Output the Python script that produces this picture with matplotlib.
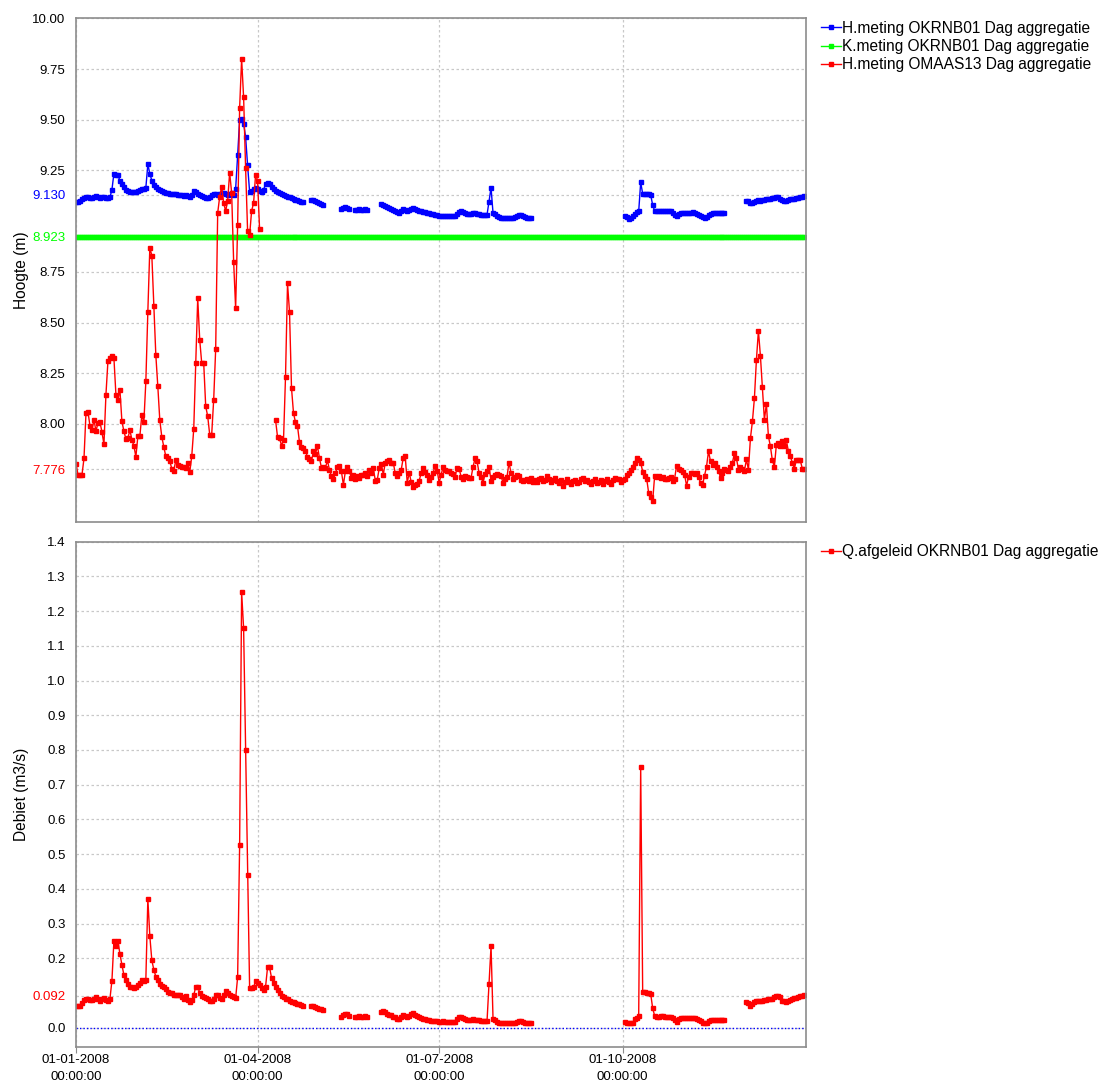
import numpy as np
import pandas as pd
import matplotlib
matplotlib.use("Agg")
import matplotlib.pyplot as plt
import matplotlib.dates as mdates

plt.rcParams['font.family'] = ['Liberation Sans', 'DejaVu Sans']

nan = float("nan")

# one value per day, 01-01-2008 .. 31-12-2008 (366 days)
days = pd.date_range("2008-01-01", periods=366, freq="D")

# H.meting OKRNB01 (m)
h_okrnb01 = [
    9.097, 9.097, 9.100, 9.108, 9.115, 9.118, 9.118, 9.115, 9.115, 9.120,   # 0
    9.122, 9.118, 9.112, 9.118, 9.120, 9.115, 9.112, 9.118, 9.155, 9.235,   # 10
    9.230, 9.228, 9.200, 9.185, 9.170, 9.155, 9.150, 9.145, 9.143, 9.143,   # 20
    9.145, 9.150, 9.155, 9.158, 9.160, 9.165, 9.280, 9.235, 9.200, 9.180,   # 30
    9.168, 9.160, 9.152, 9.148, 9.143, 9.140, 9.138, 9.135, 9.135, 9.133,   # 40
    9.132, 9.130, 9.128, 9.128, 9.125, 9.127, 9.122, 9.118, 9.127, 9.148,   # 50
    9.143, 9.135, 9.127, 9.122, 9.118, 9.115, 9.115, 9.118, 9.127, 9.135,   # 60
    9.132, 9.127, 9.132, 9.138, 9.138, 9.132, 9.127, 9.135, 9.138, 9.127,   # 70
    9.160, 9.324, 9.498, 9.506, 9.481, 9.415, 9.275, 9.145, 9.150, 9.160,   # 80
    9.165, 9.160, 9.150, 9.145, 9.155, 9.183, 9.190, 9.183, 9.170, 9.158,   # 90
    9.150, 9.145, 9.138, 9.133, 9.127, 9.122, 9.118, 9.118, 9.115, 9.110,   # 100
    9.105, 9.103, 9.100, 9.097, 9.093, nan, nan, nan, 9.105, 9.105,         # 110
    9.100, 9.095, 9.090, 9.085, 9.080, nan, nan, nan, nan, nan,             # 120
    nan, nan, nan, 9.060, 9.065, 9.068, 9.065, 9.060, nan, nan,             # 130
    9.055, 9.055, 9.058, 9.055, 9.055, 9.058, 9.055, nan, nan, nan,         # 140
    nan, nan, nan, 9.083, 9.080, 9.075, 9.070, 9.065, 9.060, 9.055,         # 150
    9.050, 9.045, 9.040, 9.050, 9.060, 9.055, 9.050, 9.055, 9.060, 9.065,   # 160
    9.060, 9.055, 9.050, 9.048, 9.045, 9.043, 9.040, 9.038, 9.035, 9.033,   # 170
    9.030, 9.030, 9.028, 9.027, 9.028, 9.026, 9.027, 9.025, 9.026, 9.024,   # 180
    9.025, 9.035, 9.045, 9.050, 9.045, 9.040, 9.037, 9.035, 9.037, 9.040,   # 190
    9.038, 9.035, 9.035, 9.032, 9.030, 9.032, 9.032, 9.097, 9.165, 9.040,   # 200
    9.035, 9.025, 9.020, 9.018, 9.018, 9.018, 9.018, 9.018, 9.018, 9.018,   # 210
    9.020, 9.025, 9.030, 9.032, 9.025, 9.020, 9.018, 9.018, 9.018, nan,     # 220
] + [nan] * 40 + [                                                          # 230-269
    nan, nan, nan, nan, nan, 9.026, 9.020, 9.013, 9.015, 9.025,             # 270
    9.036, 9.045, 9.048, 9.192, 9.135, 9.135, 9.135, 9.133, 9.130, 9.080,   # 280
    9.050, 9.048, 9.050, 9.050, 9.052, 9.050, 9.050, 9.050, 9.048, 9.040,   # 290
    9.030, 9.026, 9.035, 9.040, 9.040, 9.042, 9.040, 9.042, 9.040, 9.043,   # 300
    9.040, 9.035, 9.030, 9.025, 9.020, 9.018, 9.020, 9.030, 9.035, 9.040,   # 310
    9.038, 9.040, 9.040, 9.038, 9.040, 9.040, nan, nan, nan, nan,           # 320
    nan, nan, nan, nan, nan, nan, 9.100, 9.098, 9.092, 9.088,               # 330
    9.095, 9.100, 9.103, 9.100, 9.102, 9.105, 9.108, 9.110, 9.110, 9.112,   # 340
    9.115, 9.120, 9.118, 9.110, 9.103, 9.100, 9.100, 9.103, 9.107, 9.110,   # 350
    9.110, 9.112, 9.115, 9.118, 9.120, 9.122,                               # 360
]

# K.meting OKRNB01 (m) - fixed crest level
k_okrnb01 = [8.923] * 366

# H.meting OMAAS13 (m)
h_omaas13 = [
    7.805, 7.750, 7.746, 7.750, 7.830, 8.055, 8.060, 7.990, 7.970, 8.020,   # 0
    7.965, 8.005, 8.010, 7.960, 7.900, 8.145, 8.310, 8.325, 8.335, 8.325,   # 10
    8.145, 8.120, 8.170, 8.013, 7.965, 7.926, 7.930, 7.970, 7.923, 7.893,   # 20
    7.838, 7.940, 7.940, 8.046, 8.008, 8.210, 8.554, 8.870, 8.830, 8.580,   # 30
    8.340, 8.185, 8.018, 7.936, 7.887, 7.840, 7.830, 7.816, 7.780, 7.770,   # 40
    7.820, 7.800, 7.795, 7.790, 7.790, 7.784, 7.810, 7.762, 7.840, 7.975,   # 50
    8.300, 8.620, 8.415, 8.300, 8.300, 8.087, 8.038, 7.948, 7.948, 8.120,   # 60
    8.370, 9.040, 9.120, 9.170, 9.090, 9.050, 9.100, 9.240, 9.140, 8.800,   # 70
    8.570, 8.980, 9.560, 9.800, 9.610, 9.260, 8.950, 8.930, 9.050, 9.090,   # 80
    9.230, 9.200, 8.960, nan, nan, nan, nan, nan, nan, nan,                 # 90
    8.020, 7.936, 7.930, 7.893, 7.923, 8.234, 8.693, 8.554, 8.177, 8.054,   # 100
    8.008, 7.990, 7.910, 7.887, 7.882, 7.866, 7.838, 7.825, 7.816, 7.866,   # 110
    7.854, 7.890, 7.833, 7.784, 7.790, 7.784, 7.820, 7.775, 7.743, 7.730,   # 120
    7.756, 7.790, 7.795, 7.767, 7.700, 7.767, 7.790, 7.767, 7.734, 7.746,   # 130
    7.730, 7.743, 7.734, 7.750, 7.746, 7.756, 7.743, 7.775, 7.760, 7.784,   # 140
    7.720, 7.726, 7.784, 7.805, 7.750, 7.810, 7.816, 7.820, 7.810, 7.810,   # 150
    7.756, 7.743, 7.756, 7.775, 7.833, 7.840, 7.710, 7.760, 7.713, 7.690,   # 160
    7.700, 7.705, 7.720, 7.760, 7.785, 7.765, 7.750, 7.725, 7.740, 7.760,   # 170
    7.795, 7.770, 7.710, 7.750, 7.790, 7.775, 7.770, 7.770, 7.760, 7.755,   # 180
    7.740, 7.785, 7.780, 7.740, 7.730, 7.745, 7.740, 7.735, 7.735, 7.790,   # 190
    7.830, 7.815, 7.760, 7.740, 7.710, 7.755, 7.770, 7.790, 7.720, 7.740,   # 200
    7.750, 7.755, 7.750, 7.745, 7.710, 7.730, 7.740, 7.810, 7.760, 7.730,   # 210
    7.740, 7.750, 7.745, 7.725, 7.720, 7.725, 7.730, 7.720, 7.735, 7.715,   # 220
    7.725, 7.715, 7.730, 7.735, 7.720, 7.725, 7.745, 7.730, 7.715, 7.725,   # 230
    7.735, 7.720, 7.710, 7.725, 7.695, 7.715, 7.730, 7.715, 7.705, 7.720,   # 240
    7.725, 7.710, 7.715, 7.730, 7.735, 7.720, 7.725, 7.715, 7.705, 7.720,   # 250
    7.730, 7.710, 7.715, 7.725, 7.705, 7.720, 7.730, 7.715, 7.705, 7.725,   # 260
    7.735, 7.730, 7.730, 7.715, 7.725, 7.730, 7.750, 7.760, 7.775, 7.790,   # 270
    7.810, 7.833, 7.820, 7.810, 7.765, 7.745, 7.730, 7.660, 7.640, 7.620,   # 280
    7.745, 7.740, 7.745, 7.735, 7.740, 7.730, 7.730, 7.735, 7.740, 7.720,   # 290
    7.730, 7.795, 7.780, 7.775, 7.765, 7.750, 7.695, 7.740, 7.760, 7.760,   # 300
    7.755, 7.760, 7.740, 7.710, 7.700, 7.745, 7.790, 7.866, 7.815, 7.800,   # 310
    7.810, 7.790, 7.770, 7.735, 7.760, 7.780, 7.775, 7.770, 7.790, 7.810,   # 320
    7.857, 7.830, 7.775, 7.790, 7.780, 7.770, 7.825, 7.775, 7.930, 8.013,   # 330
    8.128, 8.316, 8.460, 8.336, 8.180, 8.020, 8.100, 7.940, 7.890, 7.820,   # 340
    7.790, 7.898, 7.907, 7.890, 7.915, 7.890, 7.920, 7.866, 7.840, 7.810,   # 350
    7.780, 7.820, 7.820, 7.820, 7.780, 7.780,                               # 360
]

# Q.afgeleid OKRNB01 (m3/s)
q_okrnb01 = [
    0.062, 0.063, 0.062, 0.070, 0.080, 0.082, 0.083, 0.081, 0.080, 0.083,   # 0
    0.087, 0.082, 0.078, 0.083, 0.086, 0.080, 0.076, 0.083, 0.135, 0.251,   # 10
    0.234, 0.249, 0.213, 0.181, 0.152, 0.138, 0.126, 0.118, 0.116, 0.114,   # 20
    0.118, 0.123, 0.128, 0.138, 0.133, 0.138, 0.371, 0.263, 0.194, 0.167,   # 30
    0.147, 0.138, 0.126, 0.120, 0.117, 0.111, 0.104, 0.101, 0.099, 0.095,   # 40
    0.094, 0.094, 0.093, 0.088, 0.082, 0.090, 0.080, 0.075, 0.080, 0.094,   # 50
    0.117, 0.117, 0.101, 0.090, 0.088, 0.085, 0.082, 0.078, 0.078, 0.082,   # 60
    0.094, 0.094, 0.085, 0.082, 0.094, 0.107, 0.101, 0.094, 0.090, 0.088,   # 70
    0.085, 0.145, 0.525, 1.255, 1.150, 0.800, 0.440, 0.115, 0.114, 0.117,   # 80
    0.133, 0.130, 0.123, 0.114, 0.109, 0.118, 0.174, 0.174, 0.143, 0.128,   # 90
    0.118, 0.109, 0.099, 0.092, 0.088, 0.082, 0.082, 0.078, 0.075, 0.075,   # 100
    0.072, 0.068, 0.068, 0.065, 0.063, nan, nan, nan, 0.063, 0.062,         # 110
    0.060, 0.058, 0.055, 0.053, 0.050, nan, nan, nan, nan, nan,             # 120
    nan, nan, nan, 0.032, 0.036, 0.040, 0.038, 0.034, nan, nan,             # 130
    0.032, 0.031, 0.033, 0.032, 0.031, 0.033, 0.032, nan, nan, nan,         # 140
    nan, nan, nan, 0.046, 0.048, 0.044, 0.040, 0.037, 0.035, 0.032,         # 150
    0.030, 0.026, 0.024, 0.030, 0.037, 0.034, 0.030, 0.033, 0.038, 0.041,   # 160
    0.037, 0.033, 0.030, 0.028, 0.026, 0.024, 0.023, 0.022, 0.020, 0.019,   # 170
    0.018, 0.018, 0.017, 0.017, 0.018, 0.017, 0.017, 0.016, 0.017, 0.016,   # 180
    0.017, 0.025, 0.030, 0.032, 0.028, 0.024, 0.022, 0.021, 0.022, 0.024,   # 190
    0.023, 0.021, 0.021, 0.019, 0.018, 0.019, 0.020, 0.126, 0.235, 0.025,   # 200
    0.022, 0.017, 0.014, 0.012, 0.012, 0.012, 0.012, 0.012, 0.012, 0.012,   # 210
    0.013, 0.016, 0.020, 0.020, 0.016, 0.013, 0.012, 0.012, 0.012, nan,     # 220
] + [nan] * 40 + [                                                          # 230-269
    nan, nan, nan, nan, nan, 0.017, 0.014, 0.012, 0.012, 0.014,             # 270
    0.025, 0.027, 0.033, 0.750, 0.102, 0.102, 0.101, 0.100, 0.098, 0.056,   # 280
    0.034, 0.032, 0.032, 0.033, 0.034, 0.032, 0.032, 0.031, 0.032, 0.028,   # 290
    0.022, 0.017, 0.025, 0.027, 0.027, 0.028, 0.027, 0.028, 0.027, 0.028,   # 300
    0.027, 0.025, 0.022, 0.018, 0.014, 0.012, 0.014, 0.020, 0.022, 0.023,   # 310
    0.022, 0.023, 0.023, 0.022, 0.023, 0.022, nan, nan, nan, nan,           # 320
    nan, nan, nan, nan, nan, nan, 0.075, 0.070, 0.062, 0.068,               # 330
    0.073, 0.077, 0.078, 0.077, 0.078, 0.080, 0.080, 0.082, 0.083, 0.083,   # 340
    0.087, 0.090, 0.092, 0.088, 0.078, 0.076, 0.075, 0.077, 0.080, 0.082,   # 350
    0.084, 0.085, 0.087, 0.090, 0.092, 0.093,                               # 360
]

for series in (h_okrnb01, k_okrnb01, h_omaas13, q_okrnb01):
    assert len(series) == len(days), len(series)

quarter_dates = pd.to_datetime(["2008-01-01", "2008-04-01", "2008-07-01", "2008-10-01"])

top_ticks = [7.776, 8.00, 8.25, 8.50, 8.75, 8.923, 9.130, 9.25, 9.50, 9.75, 10.00]
top_labels = ["7.776", "8.00", "8.25", "8.50", "8.75", "8.923", "9.130",
              "9.25", "9.50", "9.75", "10.00"]
top_label_colors = {"7.776": "#ff0000", "8.923": "#00ff00", "9.130": "#0000ff"}

bottom_ticks = [0.0, 0.092, 0.2, 0.3, 0.4, 0.5, 0.6, 0.7, 0.8, 0.9, 1.0, 1.1, 1.2, 1.3, 1.4]
bottom_labels = ["0.0", "0.092", "0.2", "0.3", "0.4", "0.5", "0.6", "0.7", "0.8",
                 "0.9", "1.0", "1.1", "1.2", "1.3", "1.4"]
bottom_label_colors = {"0.092": "#ff0000"}

GRID = dict(color="#c8c8c8", linestyle=(0, (2, 2)), linewidth=0.9)
SPINE = "#8c8c8c"
TICK_FS = 9.5
TEXT_FS = 11.2


def style_axes(ax, ticks, labels, colors, ylim):
    ax.set_xlim(pd.Timestamp("2008-01-01"), pd.Timestamp("2009-01-01"))
    ax.set_ylim(*ylim)
    ax.set_yticks(ticks)
    ax.set_yticklabels(labels)
    for lab in ax.get_yticklabels():
        lab.set_color(colors.get(lab.get_text(), "black"))
    ax.set_xticks(quarter_dates)
    ax.xaxis.set_major_formatter(mdates.DateFormatter("%d-%m-%Y\n%H:%M:%S"))
    ax.grid(True, **GRID)
    ax.set_axisbelow(True)
    ax.tick_params(axis="y", length=0, pad=7.5, labelsize=TICK_FS)
    ax.tick_params(axis="x", length=4, color=SPINE, pad=1, labelsize=TICK_FS)
    for sp in ax.spines.values():
        sp.set_color(SPINE)
        sp.set_linewidth(1.2)


fig = plt.figure(figsize=(11, 10.81), dpi=100)
ax1 = fig.add_axes([0.0691, 0.5168, 0.6639, 0.4662])
ax2 = fig.add_axes([0.0691, 0.0317, 0.6639, 0.4672])

mk = dict(marker="s", markersize=2.8, linewidth=1.0)
ax1.plot(days, h_okrnb01, color="#0000ff", label="H.meting OKRNB01 Dag aggregatie", **mk)
ax1.plot(days, k_okrnb01, color="#00ff00", label="K.meting OKRNB01 Dag aggregatie", **mk)
ax1.plot(days, h_omaas13, color="#ff0000", label="H.meting OMAAS13 Dag aggregatie", **mk)
style_axes(ax1, top_ticks, top_labels, top_label_colors, (7.515, 10.0))
ax1.tick_params(axis="x", labelbottom=False, length=0)
ax1.set_ylabel("Hoogte (m)", fontsize=TEXT_FS)
ax1.yaxis.set_label_coords(-0.064, 0.5)

ax2.axhline(0.0, color="#0000ff", linestyle=(0, (1, 1.5)), linewidth=1.0, zorder=1.5)
ax2.plot(days, q_okrnb01, color="#ff0000", label="Q.afgeleid OKRNB01 Dag aggregatie", **mk)
style_axes(ax2, bottom_ticks, bottom_labels, bottom_label_colors, (-0.055, 1.4))
ax2.set_ylabel("Debiet (m3/s)", fontsize=TEXT_FS)
ax2.yaxis.set_label_coords(-0.064, 0.5)
for lab in ax2.get_xticklabels():
    lab.set_linespacing(1.55)

for ax in (ax1, ax2):
    ax.legend(loc="upper left", bbox_to_anchor=(1.0197, 0.995), frameon=False,
              fontsize=TEXT_FS, handlelength=1.3, handletextpad=0.1,
              labelspacing=0.2, borderpad=0, borderaxespad=0, markerscale=1.0)

fig.savefig("out.png", dpi=100)
